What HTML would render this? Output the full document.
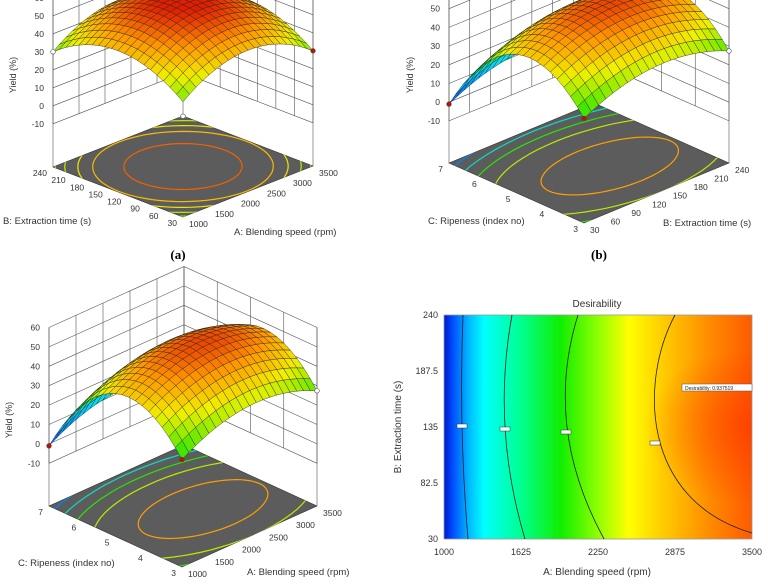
<!DOCTYPE html>
<html><head><meta charset="utf-8">
<style>
html,body{margin:0;padding:0;background:#fff;}
svg{display:block;font-family:"Liberation Sans",sans-serif;}
</style></head>
<body>
<svg id="fig" width="768" height="584" viewBox="0 0 768 584" xmlns="http://www.w3.org/2000/svg">
<defs>
<linearGradient id="desG" x1="0" y1="0" x2="1" y2="0">
<stop offset="0" stop-color="#0018d0"/><stop offset="0.03" stop-color="#0050ff"/>
<stop offset="0.08" stop-color="#00b8ff"/><stop offset="0.13" stop-color="#00ffff"/>
<stop offset="0.25" stop-color="#00ff90"/><stop offset="0.38" stop-color="#10ee00"/>
<stop offset="0.5" stop-color="#90ff00"/><stop offset="0.6" stop-color="#ffff00"/>
<stop offset="0.72" stop-color="#ffc800"/><stop offset="0.86" stop-color="#ff8c00"/>
<stop offset="1" stop-color="#ff5a00"/></linearGradient>
<radialGradient id="desR" cx="1" cy="0.5" r="0.35">
<stop offset="0" stop-color="#ff3000" stop-opacity="0.6"/><stop offset="1" stop-color="#ff3000" stop-opacity="0"/></radialGradient>
</defs>
<g id="panels"></g>
<g id="desir">
<text x="597" y="307" font-size="10" text-anchor="middle" fill="#333">Desirability</text>
<rect x="444" y="315" width="308" height="224" fill="url(#desG)"/>
<rect x="444" y="315" width="308" height="224" fill="url(#desR)"/>
<rect x="444" y="315" width="308" height="224" fill="none" stroke="#999" stroke-width="0.8"/>
<g fill="none" stroke="#222" stroke-width="0.8">
<path d="M463,315 Q458.5,427 468,539"/>
<path d="M512,315 Q491.5,427 525,539"/>
<path d="M578,315 Q543,427 604,539"/>
<path d="M675,315 C640,380 640,500 752,533"/>
</g>
<g fill="#fff" stroke="#333" stroke-width="0.5">
<rect x="457" y="424" width="10" height="4"/><rect x="500" y="427" width="10" height="4"/>
<rect x="561" y="430" width="10" height="4"/><rect x="650" y="441" width="10" height="4"/>
</g>
<rect x="682" y="384" width="70" height="7" fill="#fff" stroke="#555" stroke-width="0.5"/>
<text x="685" y="390" font-size="5" fill="#222">Desirability: 0.937519</text>
<g font-size="9" fill="#333">
<text x="444" y="555" text-anchor="middle">1000</text><text x="521" y="555" text-anchor="middle">1625</text>
<text x="598" y="555" text-anchor="middle">2250</text><text x="675" y="555" text-anchor="middle">2875</text>
<text x="752" y="555" text-anchor="middle">3500</text></g>
<g font-size="9" fill="#333" text-anchor="end">
<text x="438" y="318">240</text><text x="438" y="374">187.5</text><text x="438" y="430">135</text>
<text x="438" y="486">82.5</text><text x="438" y="542">30</text></g>
<text x="597" y="575" font-size="10" text-anchor="middle" fill="#333">A: Blending speed (rpm)</text>
<text transform="translate(401,427) rotate(-90)" font-size="10" text-anchor="middle" fill="#333">B: Extraction time (s)</text>
</g>
<text x="178" y="259" font-size="13" font-weight="bold" font-family="Liberation Serif,serif" text-anchor="middle">(a)</text>
<text x="599" y="259" font-size="13" font-weight="bold" font-family="Liberation Serif,serif" text-anchor="middle">(b)</text>
</svg>
<script>
// quadratic model coefficients per panel: [peak, curvature-u, center-u, curvature-v, center-v]
const modelA = [59, 58, 0.5, 58, 0.5];
const modelB = [55, 40, 0.55, 122, 0.4];
const modelC = [55, 40, 0.55, 122, 0.4];
const zTicks = [-10, 0, 10, 20, 30, 40, 50, 60];
const blendTicks = ["1000","1500","2000","2500","3000","3500"];
const timeTicks = ["30","60","90","120","150","180","210","240"];
const ripeTicks = ["3","4","5","6","7"];
const contourA = [53, 45, 40, 35, 31];
const contourBC = [48, 35, 25, 15, 5];

const NS="http://www.w3.org/2000/svg";
function mk(tag,attrs,parent){const e=document.createElementNS(NS,tag);for(const k in attrs)e.setAttribute(k,attrs[k]);parent.appendChild(e);return e;}
const stops=[[0,[0,64,255]],[12,[0,220,255]],[25,[40,230,0]],[39,[240,240,0]],[49,[255,150,0]],[58,[225,30,0]]];
function col(z){if(z<=stops[0][0])return "rgb(0,64,255)";for(let i=1;i<stops.length;i++){if(z<=stops[i][0]){const a=stops[i-1],b=stops[i];const t=(z-a[0])/(b[0]-a[0]);return "rgb("+a[1].map((c,j)=>Math.round(c+(b[1][j]-c)*t)).join(",")+")";}}return "rgb(225,30,0)";}
const root=document.getElementById('panels');

function panel(id,cfg){
  const g=mk('g',{},root);
  
  
  const {F,R,L,k,zf,m,uT,vT,levels}=cfg;
  const f=(u,v)=>m[0]-m[1]*(u-m[2])*(u-m[2])-m[3]*(v-m[4])*(v-m[4]);
  const P=(u,v,z)=>[F[0]+u*(R[0]-F[0])+v*(L[0]-F[0]), F[1]+u*(R[1]-F[1])+v*(L[1]-F[1])-k*(z-zf)];
  const pts=a=>a.map(p=>p[0].toFixed(1)+","+p[1].toFixed(1)).join(" ");
  const w=mk('g',{stroke:"#555","stroke-width":0.6,fill:"none"},g);
  
  
  zTicks.forEach(z=>{mk('polyline',{points:pts([P(0,1,z),P(1,1,z),P(1,0,z)])},w);});
  uT.forEach((t,i)=>{const u=i/(uT.length-1);mk('line',{x1:P(u,1,-10)[0],y1:P(u,1,-10)[1],x2:P(u,1,60)[0],y2:P(u,1,60)[1]},w);});
  vT.forEach((t,i)=>{const v=i/(vT.length-1);mk('line',{x1:P(1,v,-10)[0],y1:P(1,v,-10)[1],x2:P(1,v,60)[0],y2:P(1,v,60)[1]},w);});
  [[0,1],[1,0],[1,1]].forEach(c=>{const a=P(c[0],c[1],zf),b=P(c[0],c[1],60);mk('line',{x1:a[0],y1:a[1],x2:b[0],y2:b[1]},w);});
  const floor=[P(0,0,zf),P(1,0,zf),P(1,1,zf),P(0,1,zf)];
  const fl=mk('polygon',{points:pts(floor),fill:"#5c5c5c",stroke:"#333","stroke-width":0.6},g);
  
  
  const cp=mk('clipPath',{id:'clip'+id},g);mk('polygon',{points:pts(floor)},cp);
  const cg=mk('g',{"clip-path":"url(#clip"+id+")",fill:"none","stroke-width":1.2},g);
  levels.forEach(lv=>{const r2=(m[0]-lv);const a=[];for(let t=0;t<=72;t++){const th=t/72*2*Math.PI;a.push(P(m[2]+Math.sqrt(r2/m[1])*Math.cos(th),m[4]+Math.sqrt(r2/m[3])*Math.sin(th),zf));}
    const c=mk('polyline',{points:pts(a),stroke:col(lv)},cg);
    
    });
  const N=20,quads=[];
  for(let i=0;i<N;i++)for(let j=0;j<N;j++){const u0=i/N,u1=(i+1)/N,v0=j/N,v1=(j+1)/N;quads.push([u0,u1,v0,v1,i+j]);}
  quads.sort((a,b)=>b[4]-a[4]);
  const sg=mk('g',{stroke:"#222","stroke-width":0.4},g);
  
  
  quads.forEach(q=>{const c=[[q[0],q[2]],[q[1],q[2]],[q[1],q[3]],[q[0],q[3]]];const zs=c.map(p=>f(p[0],p[1]));const za=zs.reduce((s,x)=>s+x,0)/4;
    mk('polygon',{points:pts(c.map((p,n)=>P(p[0],p[1],zs[n]))),fill:col(za)},sg);});
  const dp=(u,v,fill)=>{const p=P(u,v,f(u,v));mk('circle',{cx:p[0],cy:p[1],r:2.3,fill:fill,stroke:"#444","stroke-width":0.6},g);};
  if(id==='a'){dp(0,1,"#fff");dp(1,0,"#c01000");const p=P(0,0,f(0,0)-8);mk('circle',{cx:p[0],cy:p[1],r:2.3,fill:"#fff",stroke:"#444","stroke-width":0.6},g);}
  else{dp(0,1,"#c01000");dp(0,0,"#c01000");dp(1,0,"#fff");}
  const tg=mk('g',{"font-size":8.5,fill:"#333"},g);
  uT.forEach((t,i)=>{const u=i/(uT.length-1);const p=P(u,0,zf);const e=mk('text',{x:p[0]+6,y:p[1]+10},tg);e.textContent=t;});
  vT.forEach((t,i)=>{const v=i/(vT.length-1);const p=P(0,v,zf);const e=mk('text',{x:p[0]-6,y:p[1]+9,"text-anchor":"end"},tg);e.textContent=t;});
  zTicks.forEach(z=>{const p=P(0,1,z);const e=mk('text',{x:p[0]-9,y:p[1]+3,"text-anchor":"end"},tg);e.textContent=z;});
  const yl=mk('text',{transform:"translate("+cfg.yl[0]+","+cfg.yl[1]+") rotate(-90)","font-size":9,"text-anchor":"middle",fill:"#333"},g);
  
  
  yl.textContent="Yield (%)";
  cfg.titles.forEach(t=>{const e=mk('text',{x:t[1],y:t[2],"font-size":9.5,fill:"#333"},g);
    
    
    e.textContent=t[0];});
}
panel('a',{F:[183,217],R:[313,166],L:[53,167],k:1.8,zf:-34,m:modelA,uT:blendTicks,vT:timeTicks,levels:contourA,yl:[16,75],
  titles:[["B: Extraction time (s)",3,224],["A: Blending speed (rpm)",234,235]]});
panel('b',{F:[584,223],R:[729,163],L:[449,163],k:1.87,zf:-32.5,m:modelB,uT:timeTicks,vT:ripeTicks,levels:contourBC,yl:[413,75],
  titles:[["C: Ripeness (index no)",428,224],["B: Extraction time (s)",663,226]]});
panel('c',{F:[182,567],R:[317,506],L:[49,506],k:1.94,zf:-32,m:modelC,uT:blendTicks,vT:ripeTicks,levels:contourBC,yl:[12,420],
  titles:[["C: Ripeness (index no)",18,566],["A: Blending speed (rpm)",247,575]]});
</script>
</body></html>
